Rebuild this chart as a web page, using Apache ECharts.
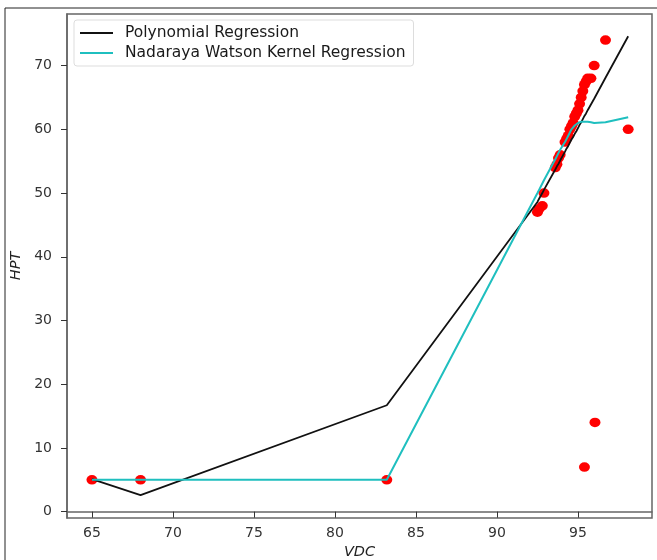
<!DOCTYPE html>
<html>
<head>
<meta charset="utf-8">
<script src="https://cdn.jsdelivr.net/npm/echarts@6/dist/echarts.min.js"></script>
<style>html,body{margin:0;padding:0;background:#fff}#c{width:657px;height:560px}</style>
</head>
<body>
<div id="c"></div>
<script>
// Scatter data (VDC vs HPT)
const scatterX = [65, 68, 83.2, 92.5, 92.6, 92.8, 92.9, 93.6, 93.7, 93.8, 93.9, 94.2, 94.3, 94.4, 94.5, 94.6, 94.7, 94.8, 94.9, 95.0, 95.1, 95.2, 95.3, 95.4, 95.5, 95.6, 95.8, 96.0, 96.7, 95.4, 96.05, 98.1];
const scatterY = [5, 5, 5, 47, 47.5, 48, 50, 54, 54.5, 55.5, 56, 58, 58.5, 59, 60, 60.5, 61, 62, 62.5, 63, 64, 65, 66, 67, 67.5, 68, 68, 70, 74, 7, 14, 60];
// Regression curves evaluated at sorted VDC values
const lineX = [65, 68, 83.2, 92.5, 92.6, 92.8, 92.9, 93.6, 93.7, 93.8, 93.9, 94.2, 94.3, 94.4, 94.5, 94.6, 94.7, 94.8, 94.9, 95.0, 95.1, 95.2, 95.3, 95.4, 95.5, 95.6, 95.8, 96.0, 96.05, 96.7, 98.1];
const polyY = [5.1, 2.6, 16.7, 48.6, 49.1, 50.0, 50.5, 53.7, 54.2, 54.6, 55.1, 56.5, 57.0, 57.4, 57.9, 58.4, 58.8, 59.3, 59.7, 60.2, 60.7, 61.1, 61.6, 62.1, 62.5, 63.0, 63.9, 64.8, 65.1, 68.1, 74.6];
const kernelY = [5, 5, 5, 50, 50.5, 51.5, 52, 55.3, 55.8, 56.3, 56.8, 58, 58.5, 59, 59.5, 60, 60.3, 60.6, 60.8, 61, 61.1, 61.2, 61.2, 61.2, 61.2, 61.2, 61.1, 61.0, 61.0, 61.1, 61.9];
const xTicks = [65, 70, 75, 80, 85, 90, 95];
const yTicks = [0, 10, 20, 30, 40, 50, 60, 70];

const chart = echarts.init(document.getElementById('c'), null, {renderer: 'canvas'});
const font = 'DejaVu Sans';
const zip = (a, b) => a.map((v, i) => [v, b[i]]);
chart.setOption({
  animation: false,
  backgroundColor: '#fff',
  grid: {left: 67, right: 5, top: 14, bottom: 42, show: true, borderColor: '#666', borderWidth: 1.5,
         containLabel: false, outerBoundsMode: 'none'},
  graphic: [
    {type: 'line', shape: {x1: 5, y1: 8, x2: 5, y2: 560}, style: {stroke: '#222', lineWidth: 1}, silent: true},
    {type: 'line', shape: {x1: 5, y1: 8, x2: 657, y2: 8}, style: {stroke: '#222', lineWidth: 1}, silent: true}
  ],
  legend: {
    orient: 'vertical', left: 74, top: 20,
    padding: [5, 8, 5, 6], itemGap: 4,
    backgroundColor: '#fff', borderColor: '#ddd', borderWidth: 1, borderRadius: 3,
    itemWidth: 33, itemHeight: 2,
    textStyle: {fontFamily: font, fontSize: 15.5, color: '#1a1a1a', padding: [0, 0, 0, 7]},
    data: [
      {name: 'Polynomial Regression', icon: 'rect'},
      {name: 'Nadaraya Watson Kernel Regression', icon: 'rect'}
    ]
  },
  xAxis: {
    type: 'value', min: 63.46, max: 99.57,
    name: 'VDC', nameLocation: 'middle', nameGap: 26,
    nameTextStyle: {fontFamily: font, fontSize: 14.5, fontStyle: 'italic', color: '#222'},
    axisLine: {show: true, lineStyle: {color: '#666', width: 1.5}},
    axisTick: {show: true, length: 6, inside: false, customValues: xTicks, lineStyle: {color: '#333'}},
    axisLabel: {customValues: xTicks, fontFamily: font, fontSize: 14, color: '#333', margin: 8},
    splitLine: {show: false}
  },
  yAxis: {
    type: 'value', min: -1.0, max: 78.1,
    name: 'HPT', nameLocation: 'middle', nameGap: 42, nameRotate: 90,
    nameTextStyle: {fontFamily: font, fontSize: 14.5, fontStyle: 'italic', color: '#222'},
    axisLine: {show: true, lineStyle: {color: '#666', width: 1.5}},
    axisTick: {show: true, length: 6, inside: false, customValues: yTicks, lineStyle: {color: '#333'}},
    axisLabel: {customValues: yTicks, fontFamily: font, fontSize: 14, color: '#333', margin: 15},
    splitLine: {show: false}
  },
  series: [
    {type: 'scatter', name: 'data', data: zip(scatterX, scatterY), symbolSize: [11, 9.5],
     itemStyle: {color: '#ff0000', opacity: 1}, z: 1},
    {type: 'line', name: 'Polynomial Regression', data: zip(lineX, polyY), showSymbol: false, symbol: 'none',
     lineStyle: {color: '#111', width: 1.8}, itemStyle: {color: '#111'}, z: 3},
    {type: 'line', name: 'Nadaraya Watson Kernel Regression', data: zip(lineX, kernelY), showSymbol: false, symbol: 'none',
     lineStyle: {color: '#1fbfbf', width: 2}, itemStyle: {color: '#1fbfbf'}, z: 4}
  ]
});
</script>
</body>
</html>
